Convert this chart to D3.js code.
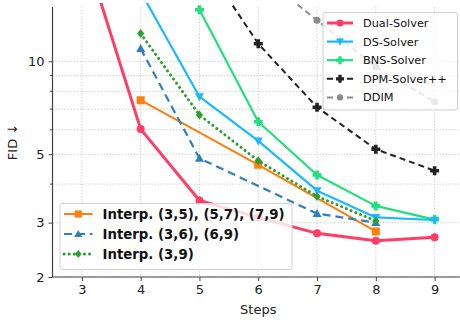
<!DOCTYPE html>
<html>
<head>
<meta charset="utf-8">
<script src="https://cdn.jsdelivr.net/npm/d3@7"></script>
<style>
  body { margin: 0; background: #fff; }
  svg { font-family: "DejaVu Sans", sans-serif; }
</style>
</head>
<body>
<svg id="chart" width="460" height="320"></svg>
<script>
// values (FID per step count)
var dualSteps = [3, 4, 5, 6, 7, 8, 9],
    dualFid   = [24.3, 6.03, 3.54, 3.12, 2.77, 2.62, 2.69];
var dsSteps = [4, 5, 6, 7, 8, 9],
    dsFid   = [16.8, 7.68, 5.52, 3.81, 3.12, 3.06];
var bnsSteps = [5, 6, 7, 8, 9],
    bnsFid   = [14.7, 6.37, 4.28, 3.40, 3.07];
var dpmSteps = [5, 6, 7, 8, 9],
    dpmFid   = [22.0, 11.4, 7.1, 5.19, 4.42];
var ddimSteps = [6, 7, 8, 9],
    ddimFid   = [19.2, 13.6, 9.6, 7.4];
var int1Steps = [4, 6, 8],
    int1Fid   = [7.48, 4.62, 2.81];
var int2Steps = [4, 5, 7, 8],
    int2Fid   = [11.0, 4.85, 3.21, 3.0];
var int3Steps = [4, 5, 6, 7, 8],
    int3Fid   = [12.3, 6.7, 4.76, 3.65, 3.04];

var xTicks = [3, 4, 5, 6, 7, 8, 9],
    yTicks = [2, 3, 5, 10],
    yMinor = [4, 6, 7, 8, 9];

var series = [
  {name: "Dual-Solver",   xs: dualSteps, ys: dualFid, color: "#ff3d66", dash: null,  width: 3,   marker: "circle", ms: 4},
  {name: "DS-Solver",     xs: dsSteps,   ys: dsFid,   color: "#1ab8ff", dash: null,  width: 2.2, marker: "tridown", ms: 4.5},
  {name: "BNS-Solver",    xs: bnsSteps,  ys: bnsFid,  color: "#1fe07a", dash: null,  width: 2.2, marker: "plus", ms: 4.5},
  {name: "DPM-Solver++",  xs: dpmSteps,  ys: dpmFid,  color: "#222222", dash: "6,4", width: 2,   marker: "plus", ms: 4.5},
  {name: "DDIM",          xs: ddimSteps, ys: ddimFid, color: "#8c8c8c", dash: "6,4", width: 2,   marker: "circle", ms: 3.5},
  {name: "Interp. (3,5), (5,7), (7,9)", xs: int1Steps, ys: int1Fid, color: "#ff7f0e", dash: null,  width: 2, marker: "square", ms: 4},
  {name: "Interp. (3,6), (6,9)",        xs: int2Steps, ys: int2Fid, color: "#2f7fc0", dash: "8,5", width: 2.2, marker: "triup", ms: 4.5},
  {name: "Interp. (3,9)",               xs: int3Steps, ys: int3Fid, color: "#2ca02c", dash: "0.1,5", width: 3, marker: "diamond", ms: 4.5, round: true}
];

var svg = d3.select("#chart");
var mLeft = 52.5, mRight = 464, mTop = 7, mBottom = 277;

var x = d3.scaleLinear().domain([2.5, 9.5]).range([mLeft, mRight]);
var y = d3.scaleLog().domain([2, 15]).range([mBottom, mTop]);

// grid
var grid = svg.append("g").attr("stroke", "#cfcfcf").attr("stroke-width", 0.9).attr("stroke-dasharray", "1.5,1.5");
grid.selectAll("line.v").data(xTicks).enter().append("line")
    .attr("x1", d => x(d)).attr("x2", d => x(d)).attr("y1", mTop).attr("y2", mBottom);
grid.selectAll("line.h").data(yTicks.concat(yMinor)).enter().append("line")
    .attr("y1", d => y(d)).attr("y2", d => y(d)).attr("x1", mLeft).attr("x2", mRight);

// axes
var xAxis = d3.axisBottom(x).tickValues(xTicks).tickSize(4).tickPadding(4).tickFormat(d3.format("d"));
var yAxis = d3.axisLeft(y).tickValues(yTicks).tickSize(4).tickPadding(4).tickFormat(d3.format("d"));

var gx = svg.append("g").attr("transform", "translate(0," + mBottom + ")").call(xAxis);
var gy = svg.append("g").attr("transform", "translate(" + mLeft + ",0)").call(yAxis);
gy.selectAll("line.minor").data(yMinor).enter().append("line")
    .attr("class", "minor").attr("x1", 0).attr("x2", -2.5)
    .attr("y1", d => y(d)).attr("y2", d => y(d)).attr("stroke", "#444");
[gx, gy].forEach(g => {
  g.select(".domain").attr("stroke", "#444").attr("stroke-width", 1.2);
  g.selectAll(".tick line").attr("stroke", "#444");
  g.selectAll(".tick text").attr("fill", "#222").style("font-size", "13px").style("font-family", "DejaVu Sans");
});
gy.select(".domain").attr("d", "M0," + mTop + "V" + mBottom);
gx.select(".domain").attr("d", "M" + mLeft + ",0H" + mRight);

svg.append("text").attr("x", x(6)).attr("y", 314).attr("text-anchor", "middle")
   .style("font-size", "13px").attr("fill", "#222").text("Steps");
svg.append("text").attr("transform", "translate(17," + ((mTop + mBottom) / 2) + ") rotate(-90)")
   .attr("text-anchor", "middle").style("font-size", "13px").attr("fill", "#222").text("FID ↓");

// markers
function drawMarker(g, kind, cx, cy, s, color) {
  var p;
  if (kind === "circle") {
    g.append("circle").attr("cx", cx).attr("cy", cy).attr("r", s).attr("fill", color);
    return;
  }
  if (kind === "square") p = [[-s, -s], [s, -s], [s, s], [-s, s]];
  if (kind === "tridown") p = [[-s, -s * 0.75], [s, -s * 0.75], [0, s]];
  if (kind === "triup") p = [[-s, s * 0.75], [s, s * 0.75], [0, -s]];
  if (kind === "diamond") p = [[0, -s], [s * 0.8, 0], [0, s], [-s * 0.8, 0]];
  if (kind === "plus") {
    var a = s * 0.4;
    p = [[-a, -s], [a, -s], [a, -a], [s, -a], [s, a], [a, a], [a, s], [-a, s], [-a, a], [-s, a], [-s, -a], [-a, -a]];
  }
  g.append("path").attr("d", "M" + p.map(q => (cx + q[0]) + "," + (cy + q[1])).join("L") + "Z").attr("fill", color);
}

svg.append("clipPath").attr("id", "plotclip").append("rect")
   .attr("x", mLeft).attr("y", mTop - 4).attr("width", mRight - mLeft).attr("height", mBottom - mTop + 4);
var plot = svg.append("g").attr("clip-path", "url(#plotclip)");

var line = d3.line().x(d => x(d[0])).y(d => y(d[1]));

// draw order: interp series below, then solvers
var order = [4, 3, 2, 1, 5, 6, 7, 0];
order.forEach(i => {
  var s = series[i];
  var pts = s.xs.map((v, k) => [v, s.ys[k]]);
  var g = plot.append("g");
  g.append("path").datum(pts).attr("d", line).attr("fill", "none")
   .attr("stroke", s.color).attr("stroke-width", s.width)
   .attr("stroke-dasharray", s.dash).attr("stroke-linecap", s.round ? "round" : "butt")
   .attr("stroke-linejoin", "round");
  pts.forEach(d => drawMarker(g, s.marker, x(d[0]), y(d[1]), s.ms, s.color));
});

// legends
function legend(items, lx, ly, w, h, rowH, sampleW, textX, fontSize, bold) {
  var lg = svg.append("g");
  lg.append("rect").attr("x", lx).attr("y", ly).attr("width", w).attr("height", h).attr("rx", 3)
    .attr("fill", "#fff").attr("fill-opacity", 0.8).attr("stroke", "#d0d0d0");
  items.forEach((s, k) => {
    var cy = ly + 10.5 + k * rowH;
    var row = lg.append("g");
    row.append("line").attr("x1", lx + 4).attr("x2", lx + 4 + sampleW).attr("y1", cy).attr("y2", cy)
       .attr("stroke", s.color).attr("stroke-width", s.width).attr("stroke-dasharray", s.dash)
       .attr("stroke-linecap", s.round ? "round" : "butt");
    drawMarker(row, s.marker, lx + 4 + sampleW / 2, cy, s.ms * 0.9, s.color);
    row.append("text").attr("x", lx + textX).attr("y", cy).attr("dy", "0.35em")
       .style("font-size", fontSize + "px").style("font-weight", bold ? "bold" : "normal")
       .attr("fill", "#111").text(s.name);
  });
}
legend(series.slice(0, 5), 323, 12.5, 134.5, 97.5, 18.6, 26, 40, 11.3, false);
legend(series.slice(5), 60, 203.5, 232, 66, 20, 28.5, 42.5, 13.3, true);
</script>
</body>
</html>
